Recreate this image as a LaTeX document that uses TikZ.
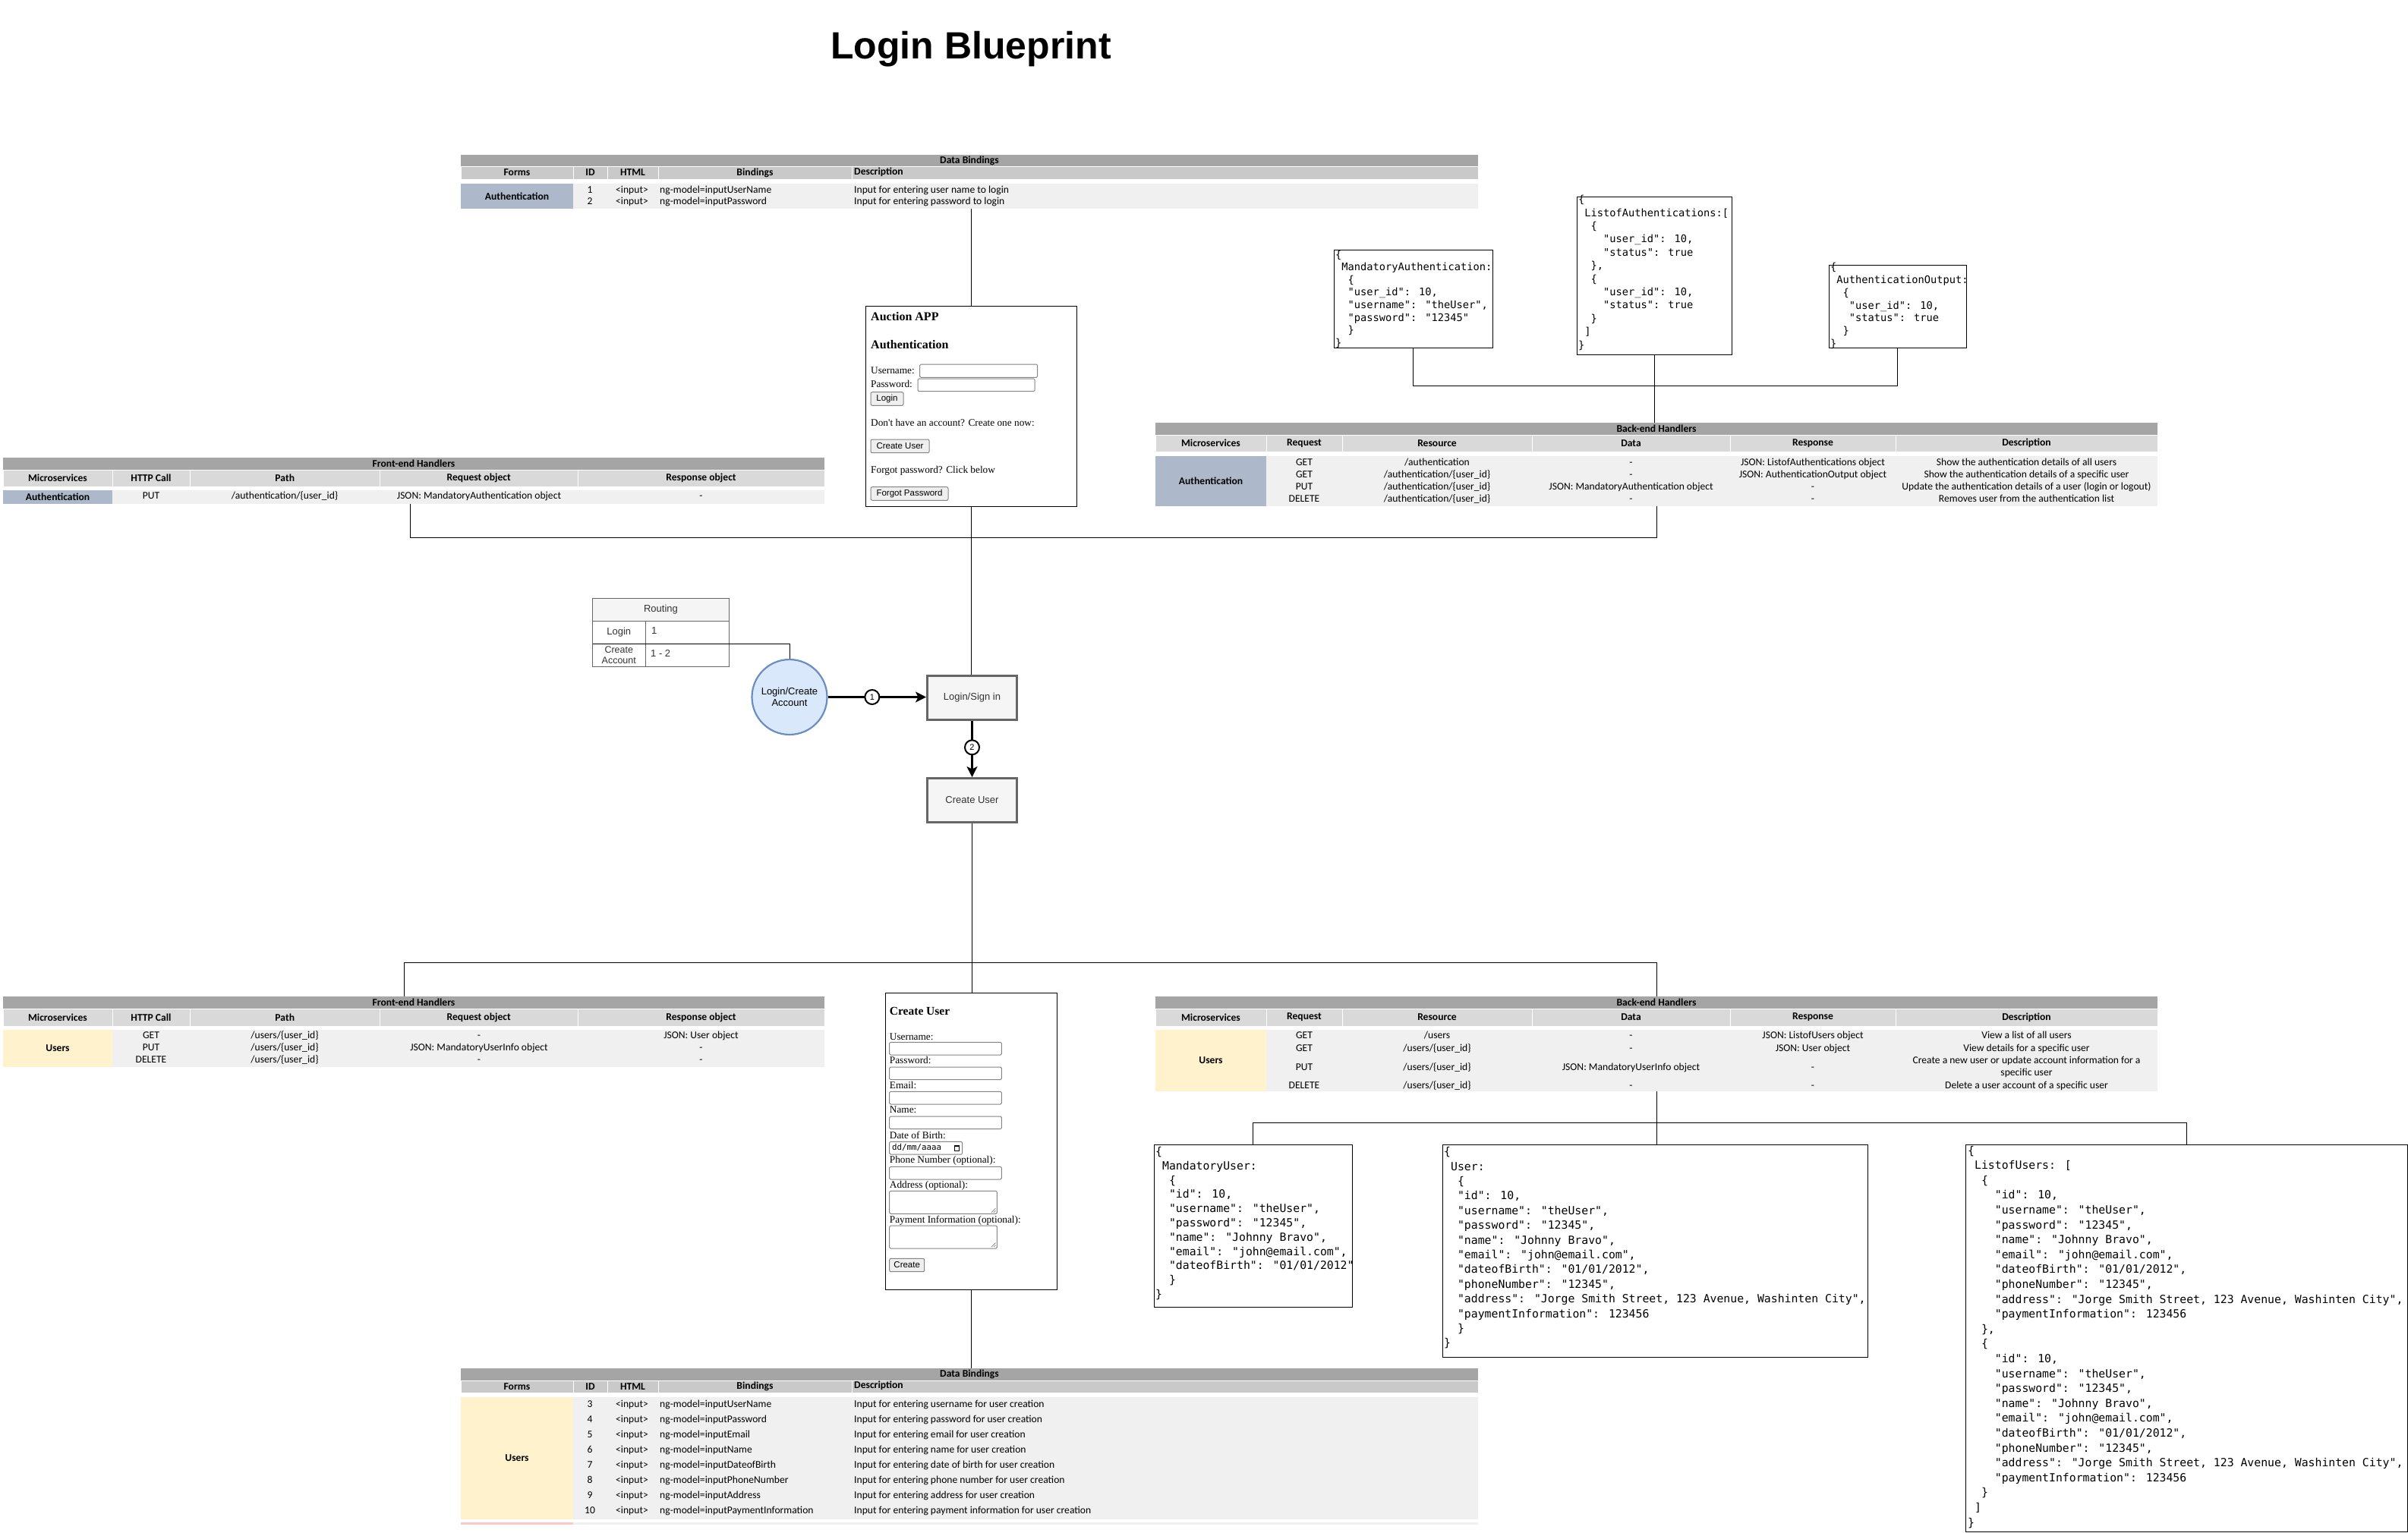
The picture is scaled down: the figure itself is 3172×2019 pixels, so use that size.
\documentclass[tikz,border=0pt]{standalone}
\usepackage{fontspec}
\setmainfont{Liberation Sans}
\newfontfamily\tblf{Carlito}
\newfontfamily\serf{Liberation Serif}
\newfontfamily\monof{DejaVu Sans Mono}
\usetikzlibrary{arrows.meta}
\definecolor{hdrA}{HTML}{A5A5A5}
\definecolor{colDB}{HTML}{C9C9C9}
\definecolor{colH}{HTML}{D9D9D9}
\definecolor{dataBg}{HTML}{F0F0F0}
\definecolor{authC}{HTML}{ADB9CA}
\definecolor{userC}{HTML}{FFF2CC}
\definecolor{pinkC}{HTML}{F4CCCC}
\definecolor{circF}{HTML}{DAE8FC}
\definecolor{circD}{HTML}{6C8EBF}
\definecolor{boxF}{HTML}{F5F5F5}
\definecolor{boxD}{HTML}{666666}
\definecolor{txtD}{HTML}{333333}
\definecolor{inpD}{HTML}{858585}
\definecolor{btnF}{HTML}{EFEFEF}
\newcommand\jin[1]{\hspace*{#1\fontcharwd\font`\x}}
\tikzset{
  band/.style={inner sep=0pt, outer sep=0pt, anchor=north west},
  th/.style={inner sep=0pt, font=\tblf\bfseries\fontsize{13.6}{16}\selectfont},
  td/.style={inner sep=0pt, anchor=mid, font=\tblf\fontsize{13.6}{16}\selectfont},
  tdl/.style={td, anchor=mid west},
  hcell/.style={band, draw=white, line width=1pt, th},
  jbox/.style={band, draw=black, line width=1pt, fill=white},
  jA/.style={inner sep=0pt, anchor=mid west, font=\monof\fontsize{13.7}{16}\selectfont},
  jB/.style={inner sep=0pt, anchor=mid west, font=\monof\fontsize{14.8}{18}\selectfont},
  frm/.style={band, draw=black, line width=1pt, fill=white},
  lbl/.style={anchor=base west, inner sep=0pt, font=\serf\fontsize{13.3}{15}\selectfont},
  hd/.style={anchor=base west, inner sep=0pt, font=\serf\bfseries\fontsize{16}{18}\selectfont},
  inp/.style={band, draw=inpD, line width=1pt, fill=white, rounded corners=1.5pt},
  btn/.style={band, draw=inpD, line width=1pt, fill=btnF, rounded corners=2pt, font=\fontsize{11.5}{13}\selectfont},
  rtxt/.style={inner sep=0pt, text=txtD, font=\fontsize{13}{15}\selectfont},
  proc/.style={draw=boxD, fill=boxF, line width=3pt, minimum width=118, minimum height=58, inner sep=0pt, text=txtD, font=\fontsize{13}{15}\selectfont},
  conn/.style={draw=black, line width=0.9pt},
  arr/.style={draw=black, line width=3pt, -{Stealth[length=14pt,width=14pt,inset=3.5pt]}},
  numc/.style={circle, draw=black, fill=white, line width=2pt, minimum size=19, inner sep=0pt, font=\fontsize{11}{12}\selectfont}
}
\newcommand\dbrow[6]{%
  \node[td] (#1-i#2) at (777,#3) {#4};
  \node[tdl] (#1-h#2) at (811,#3) {<input>};
  \node[tdl] (#1-b#2) at (869,#3) {ng-model=#5};
  \node[tdl] (#1-e#2) at (1125,#3) {#6};}
\newcommand\ferow[7]{%
  \node[td] (#1-q#2) at (199,#3) {#4};
  \node[td] (#1-p#2) at (375,#3) {#5};
  \node[td] (#1-a#2) at (631,#3) {#6};
  \node[td] (#1-s#2) at (923.5,#3) {#7};}
\newcommand\berow[8]{%
  \node[td] (#1-q#2) at (1718,#3) {#4};
  \node[td] (#1-r#2) at (1893,#3) {#5};
  \node[td] (#1-a#2) at (2148.5,#3) {#6};
  \node[td] (#1-s#2) at (2388,#3) {#7};
  \node[td] (#1-e#2) at (2669.5,#3) {#8};}
\begin{document}
\begin{tikzpicture}[x=1pt,y=-1pt]
\useasboundingbox (0,0) rectangle (3172,2019);
\fill[white] (0,0) rectangle (3172,2019);

\node[anchor=base,inner sep=0pt,font=\bfseries\fontsize{50}{60}\selectfont] (title) at (1279,77) {Login Blueprint};

% ---------- top data bindings
\node[band,fill=hdrA,th,minimum width=1340,minimum height=15] (dbA) at (607,204) {Data Bindings};
\foreach \cx/\cw/\ct [count=\k] in {607/148/Forms,755/45/ID,800/67/HTML,867/255/Bindings}
  \node[hcell,fill=colDB,minimum width=\cw,minimum height=17] (dbA-c\k) at (\cx,219) {\ct};
\node[hcell,fill=colDB,minimum width=825,minimum height=17] (dbA-c5) at (1122,219) {};
\node[th,anchor=mid west] (dbA-c5t) at (1125,227.5) {Description};
\node[band,fill=dataBg,minimum width=1340,minimum height=33] (dbA-d) at (607,242) {};
\node[band,fill=authC,th,minimum width=148,minimum height=33] (dbA-f) at (607,242) {Authentication};
\dbrow{dbA}{1}{252}{1}{inputUserName}{Input for entering user name to login}
\dbrow{dbA}{2}{267}{2}{inputPassword}{Input for entering password to login}

% ---------- top front-end handlers
\node[band,fill=hdrA,th,minimum width=1082,minimum height=16] (feA) at (4,603) {Front-end Handlers};
\foreach \cx/\cw/\ct [count=\k] in {4/144/Microservices,148/102/HTTP Call,250/250.5/Path,500.5/260.5/Request object,761/325/Response object}
  \node[hcell,fill=colH,minimum width=\cw,minimum height=22] (feA-c\k) at (\cx,619) {\ct};
\node[band,fill=dataBg,minimum width=1082,minimum height=18] (feA-d) at (4,646) {};
\node[band,fill=authC,th,minimum width=144,minimum height=18] (feA-m) at (4,646) {Authentication};
\ferow{feA}{1}{655}{PUT}{/authentication/\{user\_id\}}{JSON: MandatoryAuthentication object}{-}

% ---------- top back-end handlers
\node[band,fill=hdrA,th,minimum width=1320,minimum height=16] (beA) at (1522,557) {Back-end Handlers};
\foreach \cx/\cw/\ct [count=\k] in {1522/146/Microservices,1668/100/Request,1768/250/Resource,2018/261/Data,2279/218/Response,2497/345/Description}
  \node[hcell,fill=colH,minimum width=\cw,minimum height=22] (beA-c\k) at (\cx,573) {\ct};
\node[band,fill=dataBg,minimum width=1320,minimum height=66] (beA-d) at (1522,601) {};
\node[band,fill=authC,th,minimum width=146,minimum height=66] (beA-m) at (1522,601) {Authentication};
\berow{beA}{1}{611}{GET}{/authentication}{-}{JSON: ListofAuthentications object}{Show the authentication details of all users}
\berow{beA}{2}{627}{GET}{/authentication/\{user\_id\}}{-}{JSON: AuthenticationOutput object}{Show the authentication details of a specific user}
\berow{beA}{3}{643}{PUT}{/authentication/\{user\_id\}}{JSON: MandatoryAuthentication object}{-}{Update the authentication details of a user (login or logout)}
\berow{beA}{4}{659}{DELETE}{/authentication/\{user\_id\}}{-}{-}{Removes user from the authentication list}

% ---------- top JSON boxes
\node[jbox,minimum width=209,minimum height=129] (ma) at (1757,329) {};
\foreach \l [count=\i] in {{\{},%
{\jin{1}MandatoryAuthentication:},%
{\jin{2}\{},%
{\jin{2}"user\_id": 10,},%
{\jin{2}"username": "theUser",},%
{\jin{2}"password": "12345"},%
{\jin{2}\}},%
{\}}}
  \node[jA] (ma-\i) at (1759,{337.5+16.6*(\i-1)}) {\l};

\node[jbox,minimum width=204,minimum height=208] (la) at (2077,259) {};
\foreach \l [count=\i] in {{\{},%
{\jin{1}ListofAuthentications:[},%
{\jin{2}\{},%
{\jin{4}"user\_id": 10,},%
{\jin{4}"status": true},%
{\jin{2}\},},%
{\jin{2}\{},%
{\jin{4}"user\_id": 10,},%
{\jin{4}"status": true},%
{\jin{2}\}},%
{\jin{1}]},%
{\}}}
  \node[jA] (la-\i) at (2079,{265+17.4*(\i-1)}) {\l};

\node[jbox,minimum width=180.5,minimum height=109] (ao) at (2409.5,349) {};
\foreach \l [count=\i] in {{\{},%
{\jin{1}AuthenticationOutput:},%
{\jin{2}\{},%
{\jin{3}"user\_id": 10,},%
{\jin{3}"status": true},%
{\jin{2}\}},%
{\}}}
  \node[jA] (ao-\i) at (2411,{354+16.8*(\i-1)}) {\l};

% ---------- Auction APP form
\node[frm,minimum width=277.6,minimum height=264.4] (auc) at (1140.7,403.3) {};
\node[hd] (au-t1) at (1147,422) {Auction APP};
\node[hd] (au-t2) at (1147,459) {Authentication};
\node[lbl] (au-l1) at (1147,492) {Username:};
\node[inp,minimum width=155,minimum height=17.3] (au-i1) at (1211.7,480) {};
\node[lbl] (au-l2) at (1147,510) {Password:};
\node[inp,minimum width=154,minimum height=16.7] (au-i2) at (1209,499) {};
\node[btn,minimum width=43,minimum height=17.6] (au-b1) at (1147,516.7) {Login};
\node[lbl] (au-l3) at (1147,561.7) {Don't have an account? Create one now:};
\node[btn,minimum width=77,minimum height=17.7] (au-b2) at (1147,579) {Create User};
\node[lbl] (au-l4) at (1147,623) {Forgot password? Click below};
\node[btn,minimum width=102,minimum height=17.6] (au-b3) at (1147,641.7) {Forgot Password};

% ---------- routing and flow
\node[band,draw=boxD,fill=boxF,line width=1pt,minimum width=180,minimum height=30,rtxt] (rt) at (780.5,788) {Routing};
\node[band,draw=boxD,fill=white,line width=1pt,minimum width=69.5,minimum height=30,rtxt] (rt-a1) at (780.5,818) {Login};
\node[band,draw=boxD,fill=white,line width=1pt,minimum width=110.5,minimum height=30] (rt-b1) at (850,818) {};
\node[rtxt,anchor=mid west] (rt-b1t) at (858,833) {1};
\node[band,draw=boxD,fill=white,line width=1pt,minimum width=69.5,minimum height=30,rtxt,align=center,font=\fontsize{12.5}{13.4}\selectfont] (rt-a2) at (780.5,848) {Create\\Account};
\node[band,draw=boxD,fill=white,line width=1pt,minimum width=110.5,minimum height=30] (rt-b2) at (850,848) {};
\node[rtxt,anchor=mid west] (rt-b2t) at (857,863) {1 - 2};
\coordinate (rtc) at (780.5,848);

\node[circle,draw=circD,fill=circF,line width=2.2pt,minimum size=99,inner sep=0pt,align=center,font=\fontsize{13}{15}\selectfont] (lc) at (1040,918.5) {Login/Create\\Account};
\node[proc] (ls) at (1280.5,919.5) {Login/Sign in};
\node[proc] (cu) at (1280.5,1054.5) {Create User};

% ---------- bottom front-end handlers
\node[band,fill=hdrA,th,minimum width=1082,minimum height=16] (feB) at (4,1313) {Front-end Handlers};
\foreach \cx/\cw/\ct [count=\k] in {4/144/Microservices,148/102/HTTP Call,250/250.5/Path,500.5/260.5/Request object,761/325/Response object}
  \node[hcell,fill=colH,minimum width=\cw,minimum height=23] (feB-c\k) at (\cx,1329) {\ct};
\node[band,fill=dataBg,minimum width=1082,minimum height=49] (feB-d) at (4,1357) {};
\node[band,fill=userC,th,minimum width=144,minimum height=49] (feB-m) at (4,1357) {Users};
\ferow{feB}{1}{1366}{GET}{/users/\{user\_id\}}{-}{JSON: User object}
\ferow{feB}{2}{1382}{PUT}{/users/\{user\_id\}}{JSON: MandatoryUserInfo object}{-}
\ferow{feB}{3}{1398}{DELETE}{/users/\{user\_id\}}{-}{-}

% ---------- bottom back-end handlers
\node[band,fill=hdrA,th,minimum width=1320,minimum height=16] (beB) at (1522,1313) {Back-end Handlers};
\foreach \cx/\cw/\ct [count=\k] in {1522/146/Microservices,1668/100/Request,1768/250/Resource,2018/261/Data,2279/218/Response,2497/345/Description}
  \node[hcell,fill=colH,minimum width=\cw,minimum height=23] (beB-c\k) at (\cx,1329) {\ct};
\node[band,fill=dataBg,minimum width=1320,minimum height=81] (beB-d) at (1522,1357) {};
\node[band,fill=userC,th,minimum width=146,minimum height=81] (beB-m) at (1522,1357) {Users};
\berow{beB}{1}{1366}{GET}{/users}{-}{JSON: ListofUsers object}{View a list of all users}
\berow{beB}{2}{1383}{GET}{/users/\{user\_id\}}{-}{JSON: User object}{View details for a specific user}
\berow{beB}{3}{1408}{PUT}{/users/\{user\_id\}}{JSON: MandatoryUserInfo object}{-}{}
\node[td] (beB-e3a) at (2669.5,1399) {Create a new user or update account information for a};
\node[td] (beB-e3b) at (2669.5,1415) {specific user};
\berow{beB}{4}{1432}{DELETE}{/users/\{user\_id\}}{-}{-}{Delete a user account of a specific user}

% ---------- Create User form
\node[frm,minimum width=226.3,minimum height=391] (cuf) at (1166,1308.3) {};
\node[hd,font=\serf\bfseries\fontsize{15.5}{18}\selectfont] (cf-t) at (1171.7,1337.3) {Create User};
\node[lbl] (cf-l1) at (1171.7,1370) {Username:};
\node[inp,minimum width=147.6,minimum height=16.7] (cf-i1) at (1171.7,1373.3) {};
\node[lbl] (cf-l2) at (1171.7,1401.7) {Password:};
\node[inp,minimum width=147.6,minimum height=16.7] (cf-i2) at (1171.7,1406) {};
\node[lbl] (cf-l3) at (1171.7,1434.3) {Email:};
\node[inp,minimum width=147.6,minimum height=16.7] (cf-i3) at (1171.7,1438.3) {};
\node[lbl] (cf-l4) at (1171.7,1466.7) {Name:};
\node[inp,minimum width=147.6,minimum height=16.7] (cf-i4) at (1171.7,1471) {};
\node[lbl] (cf-l5) at (1171.7,1500) {Date of Birth:};
\node[inp,minimum width=96,minimum height=16.7] (cf-i5) at (1171.7,1504.3) {};
\node[inner sep=0pt,anchor=mid west,font=\monof\fontsize{10.8}{12}\selectfont] (cf-dt) at (1175,1513) {dd/mm/aaaa};
\draw[line width=1pt] (1257,1509.5) rectangle (1263.5,1516.5);
\fill (1257,1509) rectangle (1263.5,1511.2);
\node[lbl] (cf-l6) at (1171.7,1532.7) {Phone Number (optional):};
\node[inp,minimum width=147.6,minimum height=16.7] (cf-i6) at (1171.7,1537.3) {};
\node[lbl] (cf-l7) at (1171.7,1565) {Address (optional):};
\node[inp,minimum width=141.6,minimum height=30] (cf-i7) at (1171.7,1569.3) {};
\draw[inpD,line width=0.7pt] (1306,1597.5) -- (1311.5,1592) (1309,1597.5) -- (1311.5,1595);
\node[lbl] (cf-l8) at (1171.7,1611) {Payment Information (optional):};
\node[inp,minimum width=141.6,minimum height=30] (cf-i8) at (1171.7,1615) {};
\draw[inpD,line width=0.7pt] (1306,1643.2) -- (1311.5,1637.7) (1309,1643.2) -- (1311.5,1640.7);
\node[btn,minimum width=46,minimum height=17.4] (cf-b) at (1171.7,1658.3) {Create};

% ---------- bottom JSON boxes
\node[jbox,minimum width=261,minimum height=214] (mu) at (1520,1508) {};
\foreach \l [count=\i] in {{\{},%
{\jin{1}MandatoryUser:},%
{\jin{2}\{},%
{\jin{2}"id": 10,},%
{\jin{2}"username": "theUser",},%
{\jin{2}"password": "12345",},%
{\jin{2}"name": "Johnny Bravo",},%
{\jin{2}"email": "john@email.com",},%
{\jin{2}"dateofBirth": "01/01/2012"},%
{\jin{2}\}},%
{\}}}
  \node[jB] (mu-\i) at (1522,{1520+18.77*(\i-1)}) {\l};

\node[jbox,minimum width=560,minimum height=280] (us) at (1900,1508) {};
\foreach \l [count=\i] in {{\{},%
{\jin{1}User:},%
{\jin{2}\{},%
{\jin{2}"id": 10,},%
{\jin{2}"username": "theUser",},%
{\jin{2}"password": "12345",},%
{\jin{2}"name": "Johnny Bravo",},%
{\jin{2}"email": "john@email.com",},%
{\jin{2}"dateofBirth": "01/01/2012",},%
{\jin{2}"phoneNumber": "12345",},%
{\jin{2}"address": "Jorge Smith Street, 123 Avenue, Washinten City",},%
{\jin{2}"paymentInformation": 123456},%
{\jin{2}\}},%
{\}}}
  \node[jB] (us-\i) at (1902,{1520+19.4*(\i-1)}) {\l};

\node[jbox,minimum width=581.5,minimum height=510] (lu) at (2589.5,1508) {};
\foreach \l [count=\i] in {{\{},%
{\jin{1}ListofUsers: [},%
{\jin{2}\{},%
{\jin{4}"id": 10,},%
{\jin{4}"username": "theUser",},%
{\jin{4}"password": "12345",},%
{\jin{4}"name": "Johnny Bravo",},%
{\jin{4}"email": "john@email.com",},%
{\jin{4}"dateofBirth": "01/01/2012",},%
{\jin{4}"phoneNumber": "12345",},%
{\jin{4}"address": "Jorge Smith Street, 123 Avenue, Washinten City",},%
{\jin{4}"paymentInformation": 123456},%
{\jin{2}\},},%
{\jin{2}\{},%
{\jin{4}"id": 10,},%
{\jin{4}"username": "theUser",},%
{\jin{4}"password": "12345",},%
{\jin{4}"name": "Johnny Bravo",},%
{\jin{4}"email": "john@email.com",},%
{\jin{4}"dateofBirth": "01/01/2012",},%
{\jin{4}"phoneNumber": "12345",},%
{\jin{4}"address": "Jorge Smith Street, 123 Avenue, Washinten City",},%
{\jin{4}"paymentInformation": 123456},%
{\jin{2}\}},%
{\jin{1}]},%
{\}}}
  \node[jB] (lu-\i) at (2592,{1518.4+19.6*(\i-1)}) {\l};

% ---------- bottom data bindings
\node[band,fill=hdrA,th,minimum width=1340,minimum height=16] (dbB) at (607,1803) {Data Bindings};
\foreach \cx/\cw/\ct [count=\k] in {607/148/Forms,755/45/ID,800/67/HTML,867/255/Bindings}
  \node[hcell,fill=colDB,minimum width=\cw,minimum height=16] (dbB-c\k) at (\cx,1819) {\ct};
\node[hcell,fill=colDB,minimum width=825,minimum height=16] (dbB-c5) at (1122,1819) {};
\node[th,anchor=mid west] (dbB-c5t) at (1125,1827) {Description};
\node[band,fill=dataBg,minimum width=1340,minimum height=161] (dbB-d) at (607,1841) {};
\node[band,fill=userC,th,minimum width=148,minimum height=161] (dbB-f) at (607,1841) {Users};
\dbrow{dbB}{1}{1852}{3}{inputUserName}{Input for entering username for user creation}
\dbrow{dbB}{2}{1872}{4}{inputPassword}{Input for entering password for user creation}
\dbrow{dbB}{3}{1892}{5}{inputEmail}{Input for entering email for user creation}
\dbrow{dbB}{4}{1912}{6}{inputName}{Input for entering name for user creation}
\dbrow{dbB}{5}{1932}{7}{inputDateofBirth}{Input for entering date of birth for user creation}
\dbrow{dbB}{6}{1952}{8}{inputPhoneNumber}{Input for entering phone number for user creation}
\dbrow{dbB}{7}{1972}{9}{inputAddress}{Input for entering address for user creation}
\dbrow{dbB}{8}{1992}{10}{inputPaymentInformation}{Input for entering payment information for user creation}
\node[band,fill=pinkC,minimum width=148,minimum height=3] (dbB-nx) at (607,2006) {};
\node[band,fill=dataBg,minimum width=1192,minimum height=3] (dbB-ny) at (755,2006) {};

% ---------- connectors
\draw[conn] (dbA-d.south -| auc.north) -- (auc.north);
\draw[conn] (auc.south) -- (auc.south |- ls.north);
\draw[conn] ([xshift=-5pt]feA-d.south) -- ++(0,44) -| (beA-d.south);
\draw[conn] (ma.south) -- ++(0,50) -| (ao.south);
\draw[conn] (la.south) -- (la.south |- beA.north);
\draw[conn] (rtc) -| (lc.north);
\draw[arr] (lc.east) -- (lc.east -| ls.west) node[numc,pos=0.45] (n1) {1};
\draw[arr] (ls.south) -- (cu.north) node[numc,pos=0.47] (n2) {2};
\draw[conn] (cu.south) -- (cu.south |- cuf.north);
\draw[conn] ([xshift=-13pt]feB.north) -- ++(0,-45) -| (beB.north);
\draw[conn] (cuf.south) -- (cuf.south |- dbB.north);
\draw[conn] (beB-d.south) -- (beB-d.south |- us.north);
\draw[conn] (mu.north) -- ++(0,-29) -| (lu.north);
\end{tikzpicture}
\end{document}
